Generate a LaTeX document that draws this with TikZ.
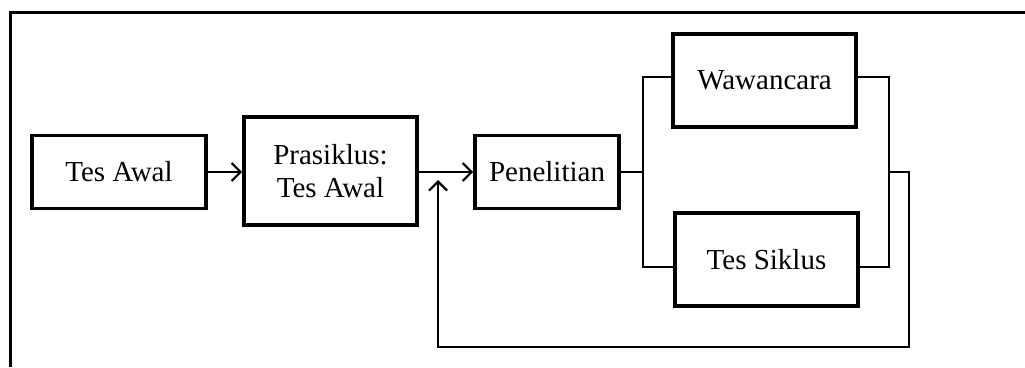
\documentclass[tikz,border=0pt]{standalone}
\usepackage{fontspec}
\setmainfont{Liberation Serif}
\usetikzlibrary{arrows.meta}
\begin{document}
\begin{tikzpicture}[x=1pt,y=-1pt,
  box/.style={draw,line width=3.6pt,minimum width=#1,align=center,
    font=\fontsize{29}{33}\selectfont,inner sep=0pt},
  link/.style={line width=2.2pt,line join=miter},
  >={Straight Barb[length=9pt,width=18pt]}]
\useasboundingbox (0,0) rectangle (1025,367);
% frame
\draw[line width=3pt] (10,367) -- (10,12) -- (1025,12);
% boxes
\node[box=174pt,minimum height=73pt] (awal) at (119,172) {Tes Awal};
\node[box=173pt,minimum height=108pt] (pra) at (330.5,171) {Prasiklus:\\Tes Awal};
\node[box=144pt,minimum height=73pt] (pen) at (547,172) {Penelitian};
\node[box=183pt,minimum height=93pt] (waw) at (764.5,80.5) {Wawancara};
\node[box=183pt,minimum height=93pt] (sik) at (766.5,259.5) {Tes Siklus};
% junction points
\coordinate (bl) at (643,172);
\coordinate (br) at (889,172);
\coordinate (fb) at (909,347);
\coordinate (tip) at (438,180);
% connectors
\draw[link,->] (awal.east) -- (pra.west |- awal.east);
\draw[link,->] (pra.east |- bl) -- (pen.west |- bl);
\draw[link] (pen.east |- bl) -- (bl);
\draw[link] (waw.west |- 0,77) -| (bl) |- (sik.west |- 0,267);
\draw[link] (waw.east |- 0,77) -| (br) |- (sik.east |- 0,267);
\draw[link,->] (br) -- (br -| fb) |- (fb -| tip) -- (tip);
\end{tikzpicture}
\end{document}
